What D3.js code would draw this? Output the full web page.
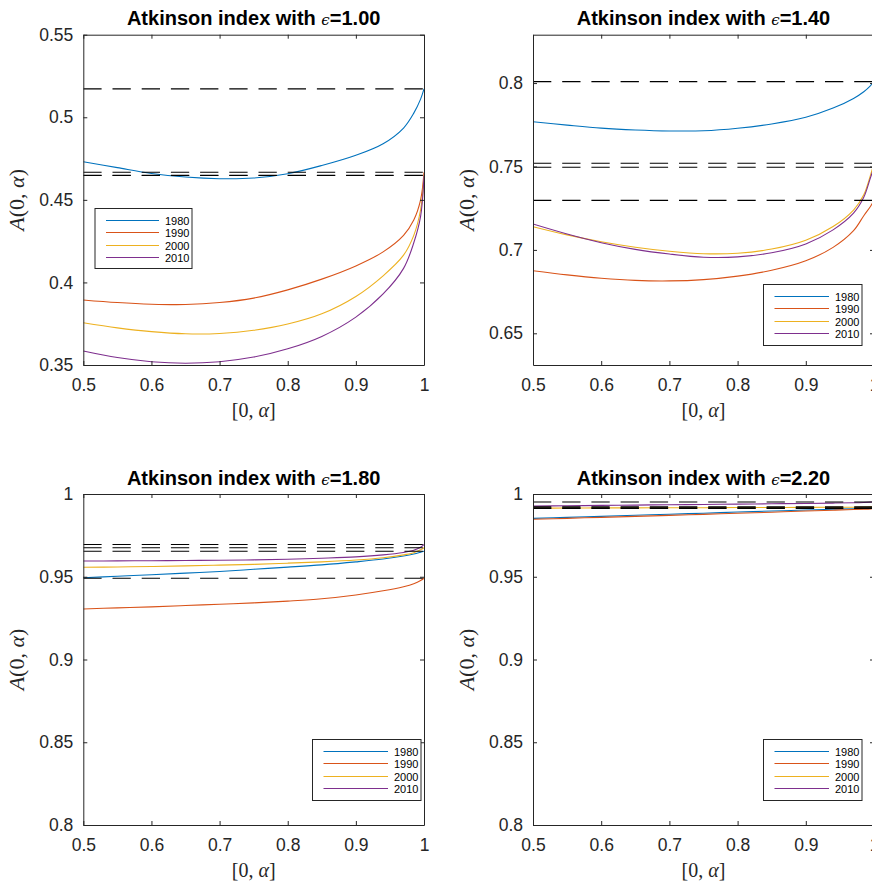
<!DOCTYPE html>
<html><head><meta charset="utf-8">
<script src="https://cdn.jsdelivr.net/npm/d3@7"></script>
<style>
body{margin:0;background:#fff;}
svg{display:block;}
text{font-family:"Liberation Sans",Arial,Helvetica,sans-serif;}
</style></head>
<body><svg id="c" width="872" height="886"></svg>
<script>
// ---- data ----
const years = ["1980","1990","2000","2010"];
const alphaGrid = [0.5,0.55,0.6,0.65,0.7,0.75,0.8,0.85,0.9,0.94,0.97,0.985,0.995,1.0];
const epsilons = ["1.00","1.40","1.80","2.20"];

// eps = 1.00
const e100_1980 = [0.4731,0.4695,0.4660,0.4638,0.4628,0.4632,0.4658,0.4708,0.4770,0.4840,0.4935,0.5025,0.5110,0.5172];
const e100_1990 = [0.3894,0.3878,0.3868,0.3866,0.3878,0.3905,0.3955,0.4020,0.4100,0.4185,0.4285,0.4378,0.4500,0.4667];
const e100_2000 = [0.3756,0.3725,0.3702,0.3689,0.3691,0.3710,0.3748,0.3810,0.3915,0.4040,0.4165,0.4285,0.4440,0.4649];
const e100_2010 = [0.3585,0.3545,0.3520,0.3511,0.3520,0.3548,0.3598,0.3673,0.3790,0.3930,0.4085,0.4240,0.4400,0.4647];
const e100_full = [0.5172,0.4667,0.4649,0.4647];

// eps = 1.40
const e140_1980 = [0.7768,0.7748,0.7730,0.7719,0.7713,0.7714,0.7729,0.7755,0.7795,0.7850,0.7908,0.7948,0.7985,0.8009];
const e140_1990 = [0.6875,0.6850,0.6830,0.6817,0.6814,0.6822,0.6843,0.6878,0.6935,0.7015,0.7115,0.7205,0.7262,0.7297];
const e140_2000 = [0.7139,0.7090,0.7049,0.7016,0.6992,0.6977,0.6980,0.7005,0.7058,0.7140,0.7239,0.7330,0.7450,0.7519];
const e140_2010 = [0.7155,0.7095,0.7043,0.7003,0.6975,0.6956,0.6958,0.6983,0.7036,0.7120,0.7220,0.7315,0.7435,0.7495];
const e140_full = [0.8009,0.7297,0.7519,0.7495];

// eps = 1.80
const e180_1980 = [0.9494,0.9503,0.9512,0.9522,0.9532,0.9545,0.9558,0.9572,0.9590,0.9607,0.9625,0.9637,0.9648,0.9654];
const e180_1990 = [0.9305,0.9312,0.9318,0.9326,0.9334,0.9342,0.9353,0.9367,0.9390,0.9415,0.9440,0.9458,0.9477,0.9491];
const e180_2000 = [0.9557,0.9559,0.9562,0.9566,0.9570,0.9575,0.9582,0.9590,0.9601,0.9615,0.9632,0.9645,0.9663,0.9675];
const e180_2010 = [0.9595,0.9596,0.9597,0.9598,0.9600,0.9602,0.9606,0.9612,0.9620,0.9632,0.9647,0.9660,0.9678,0.9695];
const e180_full = [0.9654,0.9491,0.9675,0.9695];

// eps = 2.20
const e220_1980 = [0.9853,0.9859,0.9865,0.9872,0.9878,0.9884,0.9891,0.9897,0.9903,0.9908,0.9911,0.9913,0.9915,0.9916];
const e220_1990 = [0.9847,0.9853,0.9859,0.9865,0.9871,0.9877,0.9884,0.9890,0.9897,0.9902,0.9906,0.9908,0.9910,0.9912];
const e220_2000 = [0.9915,0.9915,0.9916,0.9916,0.9917,0.9917,0.9918,0.9918,0.9919,0.9920,0.9920,0.9921,0.9922,0.9922];
const e220_2010 = [0.9927,0.9929,0.9931,0.9933,0.9935,0.9937,0.9939,0.9941,0.9943,0.9945,0.9947,0.9949,0.9951,0.9952];
const e220_full = [0.9916,0.9912,0.9922,0.9952];

const xTicks = [0.5,0.6,0.7,0.8,0.9,1];
const yTicks100 = [0.35,0.4,0.45,0.5,0.55];
const yTicks140 = [0.65,0.7,0.75,0.8];
const yTicksHi = [0.8,0.85,0.9,0.95,1];

// ---- layout ----
const colors = ["#0072BD","#D95319","#EDB120","#7E2F8E"];
const axisColor = "#262626";
const panels = [
  {eps:epsilons[0], series:[e100_1980,e100_1990,e100_2000,e100_2010], full:e100_full,
   ydom:[0.35,0.55], yt:yTicks100, L:83.3, R:424, T:34.7, B:365,
   leg:{x:95, y:208.5, w:97, h:60}},
  {eps:epsilons[1], series:[e140_1980,e140_1990,e140_2000,e140_2010], full:e140_full,
   ydom:[0.631,0.829], yt:yTicks140, L:533, R:874, T:34.7, B:365,
   leg:{x:763.5, y:284.5, w:98.5, h:61}},
  {eps:epsilons[2], series:[e180_1980,e180_1990,e180_2000,e180_2010], full:e180_full,
   ydom:[0.8,1], yt:yTicksHi, L:83.3, R:424, T:494, B:825,
   leg:{x:312.5, y:739.5, w:108.5, h:61}},
  {eps:epsilons[3], series:[e220_1980,e220_1990,e220_2000,e220_2010], full:e220_full,
   ydom:[0.8,1], yt:yTicksHi, L:533, R:874, T:494, B:825,
   leg:{x:763.5, y:739.5, w:98.5, h:61}}
];

const svg = d3.select("#c");
const fmt = d => String(+d.toFixed(2));

panels.forEach((p,pi) => {
  const x = d3.scaleLinear().domain([0.5,1]).range([p.L,p.R]);
  const y = d3.scaleLinear().domain(p.ydom).range([p.B,p.T]);
  const g = svg.append("g");
  const clipId = "clip"+pi;
  svg.append("clipPath").attr("id",clipId).append("rect")
    .attr("x",p.L).attr("y",p.T).attr("width",p.R-p.L).attr("height",p.B-p.T);

  const line = d3.line().x((d,i)=>x(alphaGrid[i])).y(d=>y(d)).curve(d3.curveCatmullRom.alpha(0.5));
  const plot = g.append("g").attr("clip-path",`url(#${clipId})`);
  p.series.forEach((s,si) => {
    plot.append("path").attr("d",line(s)).attr("fill","none")
      .attr("stroke",colors[si]).attr("stroke-width",1.1);
  });
  p.full.forEach(v => {
    plot.append("line").attr("x1",p.L).attr("x2",p.R).attr("y1",y(v)).attr("y2",y(v))
      .attr("stroke","#000").attr("stroke-width",1.1).attr("stroke-dasharray","18.3,10.9");
  });

  // axes (ticks inward)
  const tl = 4;
  const xb = g.append("g").attr("transform",`translate(0,${p.B})`)
    .call(d3.axisBottom(x).tickValues(xTicks).tickFormat(fmt).tickSizeInner(-tl).tickSizeOuter(0).tickPadding(10));
  const xt = g.append("g").attr("transform",`translate(0,${p.T})`)
    .call(d3.axisTop(x).tickValues(xTicks).tickFormat("").tickSizeInner(-tl).tickSizeOuter(0));
  const yl = g.append("g").attr("transform",`translate(${p.L},0)`)
    .call(d3.axisLeft(y).tickValues(p.yt).tickFormat(fmt).tickSizeInner(-tl).tickSizeOuter(0).tickPadding(10));
  const yr = g.append("g").attr("transform",`translate(${p.R},0)`)
    .call(d3.axisRight(y).tickValues(p.yt).tickFormat("").tickSizeInner(-tl).tickSizeOuter(0));
  [xb,xt,yl,yr].forEach(a => {
    a.select(".domain").attr("stroke",axisColor).attr("stroke-width",1);
    a.selectAll(".tick line").attr("stroke",axisColor).attr("stroke-width",1);
    a.selectAll(".tick text").attr("fill",axisColor).style("font-size","17.5px")
      .style("font-family",'"Liberation Sans",Arial,sans-serif');
  });
  xb.selectAll(".tick text").attr("dy","0.9em");

  // title
  const cx = (p.L+p.R)/2;
  const t = g.append("text").attr("x",cx).attr("y",p.T-9.5).attr("text-anchor","middle")
    .attr("fill","#000").style("font-size","20px").style("font-weight","bold");
  t.append("tspan").text("Atkinson index with ");
  t.append("tspan").text("\u03F5").style("font-weight","normal").style("font-size","15px")
    .style("font-family",'"DejaVu Serif",serif').style("font-style","italic");
  t.append("tspan").text("=" + p.eps);

  // x label
  const xlab = g.append("text").attr("x",cx).attr("y",p.B+52).attr("text-anchor","middle")
    .attr("fill",axisColor).style("font-size","20px").style("font-family",'"Liberation Serif","Times New Roman",serif');
  xlab.append("tspan").text("[0, ");
  xlab.append("tspan").text("\u03B1").style("font-style","italic");
  xlab.append("tspan").text("]");

  // y label
  const cy = (p.T+p.B)/2;
  const lx = p.L - 59;
  const ylab = g.append("text").attr("transform",`translate(${lx},${cy}) rotate(-90)`).attr("text-anchor","middle")
    .attr("fill",axisColor).style("font-size","22px").style("font-family",'"Liberation Serif","Times New Roman",serif');
  ylab.append("tspan").text("A").style("font-style","italic");
  ylab.append("tspan").text("(0, ");
  ylab.append("tspan").text("\u03B1").style("font-style","italic");
  ylab.append("tspan").text(")");

  // legend
  const lg = g.append("g");
  lg.append("rect").attr("x",p.leg.x).attr("y",p.leg.y).attr("width",p.leg.w).attr("height",p.leg.h)
    .attr("fill","#fff").attr("stroke",axisColor).attr("stroke-width",1);
  years.forEach((yr_,i) => {
    const yy = Math.round(p.leg.y + 11 + i*12.5) + 0.5;
    const lx0 = p.leg.x + 11, lx1 = p.leg.x + p.leg.w - 33;
    lg.append("line").attr("x1",lx0).attr("x2",lx1).attr("y1",yy).attr("y2",yy)
      .attr("stroke",colors[i]).attr("stroke-width",1.2);
    lg.append("text").attr("x",lx1+6).attr("y",yy+4).text(yr_)
      .attr("fill","#000").style("font-size","11px");
  });
});
</script></body></html>
